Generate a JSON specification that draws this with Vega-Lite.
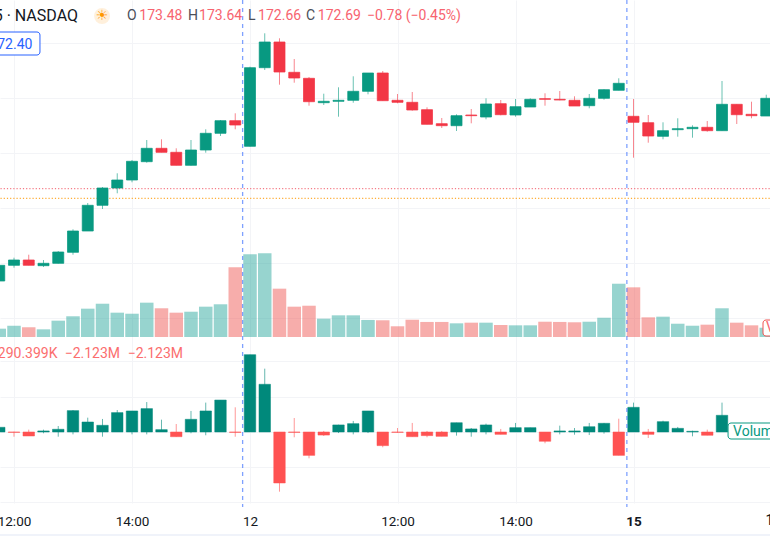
{"$schema":"https://vega.github.io/schema/vega-lite/v6.json","width":770,"height":503,"autosize":{"type":"none"},"padding":{"left":0,"right":0,"top":0,"bottom":33},"background":"#ffffff","config":{"view":{"stroke":null},"font":"Roboto"},
"datasets":{"bars":[
{"i":-17,"o":169.38,"h":169.7,"l":169.38,"c":169.694,"v":1.04,"dh":0.4,"dl":0,"dc":0.4},
{"i":-16,"o":169.694,"h":169.846,"l":169.646,"c":169.8,"v":1.41,"dh":0.03,"dl":-0.4,"dc":-0.03},
{"i":-15,"o":169.8,"h":169.906,"l":169.694,"c":169.694,"v":1.21,"dh":0.2,"dl":-0.34,"dc":-0.34},
{"i":-14,"o":169.686,"h":169.8,"l":169.66,"c":169.734,"v":0.96,"dh":0.2,"dl":-0.11,"dc":0.09},
{"i":-13,"o":169.734,"h":169.98,"l":169.73,"c":169.96,"v":2.04,"dh":0.51,"dl":-0.4,"dc":0.23},
{"i":-12,"o":169.954,"h":170.414,"l":169.906,"c":170.38,"v":2.59,"dh":1.87,"dl":-0.2,"dc":1.82},
{"i":-11,"o":170.38,"h":170.94,"l":170.38,"c":170.894,"v":3.54,"dh":1.22,"dl":0,"dc":0.85},
{"i":-10,"o":170.894,"h":171.26,"l":170.82,"c":171.24,"v":4.16,"dh":1.11,"dl":-0.4,"dc":0.57},
{"i":-9,"o":171.24,"h":171.534,"l":171.134,"c":171.4,"v":3.04,"dh":1.87,"dl":0,"dc":1.65},
{"i":-8,"o":171.4,"h":171.8,"l":171.354,"c":171.774,"v":2.91,"dh":1.79,"dl":-0.2,"dc":1.79},
{"i":-7,"o":171.766,"h":172.2,"l":171.746,"c":172.034,"v":4.29,"dh":2.55,"dl":-0.2,"dc":1.99},
{"i":-6,"o":172.034,"h":172.214,"l":171.954,"c":171.954,"v":3.59,"dh":1.05,"dl":0,"dc":0.2},
{"i":-5,"o":171.954,"h":172.034,"l":171.694,"c":171.694,"v":3.04,"dh":0.68,"dl":-0.4,"dc":-0.4},
{"i":-4,"o":171.694,"h":172.2,"l":171.69,"c":172,"v":3.16,"dh":1.79,"dl":-0.11,"dc":1.08},
{"i":-3,"o":172,"h":172.414,"l":171.946,"c":172.334,"v":3.79,"dh":2.5,"dl":-0.28,"dc":1.79},
{"i":-2,"o":172.334,"h":172.6,"l":172.28,"c":172.586,"v":4.09,"dh":2.72,"dl":0,"dc":2.72},
{"i":-1,"o":172.586,"h":172.734,"l":172.414,"c":172.5,"v":8.71,"dh":2.1,"dl":-0.4,"dc":-0.03},
{"i":0,"o":172.074,"h":173.666,"l":172.07,"c":173.646,"v":10.34,"dh":6.58,"dl":0,"dc":6.58},
{"i":1,"o":173.646,"h":174.334,"l":173.6,"c":174.16,"v":10.46,"dh":5.39,"dl":0,"dc":4.06},
{"i":2,"o":174.16,"h":174.234,"l":173.306,"c":173.56,"v":6.04,"dh":0,"dl":-5.08,"dc":-4.34},
{"i":3,"o":173.554,"h":173.82,"l":173.346,"c":173.44,"v":3.79,"dh":1.19,"dl":-0.45,"dc":-0.03},
{"i":4,"o":173.434,"h":173.46,"l":172.886,"c":172.966,"v":3.91,"dh":0,"dl":-2.24,"dc":-1.99},
{"i":5,"o":172.946,"h":173.126,"l":172.9,"c":172.974,"v":2.29,"dh":0.09,"dl":-0.34,"dc":-0.26},
{"i":6,"o":172.974,"h":173.254,"l":172.666,"c":172.994,"v":2.71,"dh":0.62,"dl":-0.09,"dc":0.6},
{"i":7,"o":172.994,"h":173.474,"l":172.946,"c":173.174,"v":2.71,"dh":0.94,"dl":-0.2,"dc":0.71},
{"i":8,"o":173.174,"h":173.54,"l":173.114,"c":173.54,"v":2.13,"dh":1.79,"dl":-0.09,"dc":1.79},
{"i":9,"o":173.54,"h":173.58,"l":172.986,"c":172.986,"v":2.09,"dh":0,"dl":-1.3,"dc":-1.16},
{"i":10,"o":172.994,"h":173.12,"l":172.934,"c":172.954,"v":1.34,"dh":0.34,"dl":-0.06,"dc":-0.03},
{"i":11,"o":172.954,"h":173.16,"l":172.786,"c":172.8,"v":2.16,"dh":0.77,"dl":-0.4,"dc":-0.4},
{"i":12,"o":172.806,"h":172.854,"l":172.514,"c":172.514,"v":1.88,"dh":0.09,"dl":-0.45,"dc":-0.31},
{"i":13,"o":172.526,"h":172.64,"l":172.44,"c":172.486,"v":1.88,"dh":0.09,"dl":-0.37,"dc":-0.37},
{"i":14,"o":172.486,"h":172.714,"l":172.38,"c":172.686,"v":1.71,"dh":0.79,"dl":-0.31,"dc":0.79},
{"i":15,"o":172.7,"h":172.82,"l":172.534,"c":172.686,"v":1.79,"dh":0.34,"dl":-0.4,"dc":0.26},
{"i":16,"o":172.66,"h":173.034,"l":172.614,"c":172.92,"v":1.79,"dh":0.71,"dl":-0.2,"dc":0.6},
{"i":17,"o":172.926,"h":173,"l":172.694,"c":172.706,"v":1.5,"dh":0.26,"dl":-0.2,"dc":-0.2},
{"i":18,"o":172.7,"h":173.02,"l":172.666,"c":172.866,"v":1.46,"dh":0.77,"dl":0,"dc":0.37},
{"i":19,"o":172.86,"h":173.034,"l":172.86,"c":173.014,"v":1.46,"dh":0.37,"dl":0,"dc":0.37},
{"i":20,"o":173.026,"h":173.134,"l":172.886,"c":173.014,"v":1.91,"dh":0,"dl":-0.96,"dc":-0.79},
{"i":21,"o":173.014,"h":173.18,"l":172.994,"c":173,"v":1.88,"dh":0.54,"dl":-0.2,"dc":0.09},
{"i":22,"o":172.994,"h":173.074,"l":172.88,"c":172.88,"v":1.84,"dh":0.34,"dl":-0.23,"dc":0.09},
{"i":23,"o":172.886,"h":173.12,"l":172.834,"c":173.034,"v":1.91,"dh":0.77,"dl":-0.26,"dc":0.45},
{"i":24,"o":173.034,"h":173.214,"l":173.006,"c":173.206,"v":2.41,"dh":0.77,"dl":-0.14,"dc":0.74},
{"i":25,"o":173.194,"h":173.434,"l":173.194,"c":173.334,"v":6.66,"dh":1.13,"dl":-1.99,"dc":-1.99},
{"i":26,"o":172.674,"h":173.02,"l":171.846,"c":172.554,"v":6.21,"dh":2.5,"dl":0,"dc":2.1},
{"i":27,"o":172.546,"h":172.7,"l":172.146,"c":172.28,"v":2.46,"dh":0.26,"dl":-0.51,"dc":-0.2},
{"i":28,"o":172.274,"h":172.554,"l":172.214,"c":172.386,"v":2.54,"dh":0.96,"dl":0,"dc":0.88},
{"i":29,"o":172.406,"h":172.634,"l":172.266,"c":172.426,"v":1.66,"dh":0.43,"dl":0,"dc":0.31},
{"i":30,"o":172.426,"h":172.494,"l":172.246,"c":172.454,"v":1.41,"dh":0.11,"dl":-0.37,"dc":0.06},
{"i":31,"o":172.454,"h":172.58,"l":172.366,"c":172.386,"v":1.54,"dh":0.2,"dl":-0.28,"dc":-0.28},
{"i":32,"o":172.386,"h":173.38,"l":172.386,"c":172.914,"v":3.59,"dh":2.5,"dl":0,"dc":1.42},
{"i":33,"o":172.914,"h":172.914,"l":172.52,"c":172.706,"v":1.79,"dh":0.1,"dl":0,"dc":0.05},
{"i":34,"o":172.714,"h":172.966,"l":172.634,"c":172.686,"v":1.46,"dh":0.8,"dl":0,"dc":0.05},
{"i":35,"o":172.68,"h":173.106,"l":172.68,"c":173.034,"v":1.16,"dh":0.2,"dl":0,"dc":0.1}
],
"levels":[{"i":-18,"i2":37,"p":171.226,"kind":"red"},{"i":-18,"i2":37,"p":171.034,"kind":"orange"}],
"sessions":[{"i":-0.5,"d1":36.77,"d2":-6.38},{"i":25.55,"d1":36.77,"d2":-6.38}],
"strip":[{"i":-18,"i2":37,"d1":-8.68,"d2":-8.9}],
"boxes":[{"i":-17.6,"i2":-14.24,"p1":174.36,"p2":173.9,"kind":"blue"},{"i":34.78,"i2":37,"p1":168.6,"p2":168.28,"kind":"red"},{"i":32.41,"i2":37,"p1":166.54,"p2":166.22,"kind":"teal"}],
"legendText":[
{"i":-8.34,"p":174.68,"t":"O","kind":"dark"},{"i":-7.5,"p":174.68,"t":"173.48","kind":"red"},
{"i":-4.2,"p":174.68,"t":"H","kind":"dark"},{"i":-3.45,"p":174.68,"t":"173.64","kind":"red"},
{"i":-0.14,"p":174.68,"t":"L","kind":"dark"},{"i":0.55,"p":174.68,"t":"172.66","kind":"red"},
{"i":3.8,"p":174.68,"t":"C","kind":"dark"},{"i":4.6,"p":174.68,"t":"172.69","kind":"red"},
{"i":7.93,"p":174.68,"t":"−0.78 (−0.45%)","kind":"red"},
{"i":32.75,"p":166.37,"t":"Volume","kind":"teal"},{"i":34.98,"p":168.44,"t":"V","kind":"red"},
{"i":34.95,"p":164.58,"t":"12:00","kind":"axis"}],
"rightText":[
{"i":-11.66,"p":174.68,"t":"15 · NASDAQ","kind":"dark","z":"title"},
{"i":-14.75,"p":174.11,"t":"172.40","kind":"blue","z":"value"},
{"i":-13.05,"p":167.92,"t":"290.399K","kind":"delta","z":"value"},
{"i":-8.81,"p":167.92,"t":"−2.123M","kind":"delta","z":"value"},
{"i":-4.54,"p":167.92,"t":"−2.123M","kind":"delta","z":"value"}],
"session":[{"i":-10.03,"p":174.68,"t":"☀"}]},
"encoding":{"x":{"field":"i","type":"quantitative","scale":{"domain":[-16.949,35.254],"nice":false,"zero":false,"padding":0},"title":null,"axis":{"values":[-16,-8,0,10,18,26],"labelExpr":"({'-16':'12:00','-8':'14:00','0':'12','10':'12:00','18':'14:00','26':'15'})[datum.value]","grid":true,"gridColor":"#f3f4f7","gridWidth":1,"domain":false,"ticks":false,"labelPadding":11,"labelFontSize":13.5,"labelColor":"#131722","labelFont":"Roboto","labelOverlap":false,"labelFlush":false,"labelBound":false,"labelFontWeight":{"condition":{"test":"datum.value===26","value":"bold"},"value":"normal"}}}},
"layer":[
{"data":{"name":"strip"},"mark":{"type":"rect","color":"#f0f3fa","clip":false},"encoding":{"x2":{"field":"i2"},"y":{"field":"d1","type":"quantitative","scale":{"domain":[36.766,-6.043],"reverse":true,"zero":false,"nice":false},"axis":{"values":[-6,-3,0,3,6],"grid":true,"gridColor":"#f3f4f7","labels":false,"ticks":false,"domain":false,"title":null}},"y2":{"field":"d2"}}},
{"data":{"name":"levels"},"mark":{"type":"rule","strokeWidth":1,"strokeDash":[1.2,2]},"encoding":{"x2":{"field":"i2"},"y":{"field":"p","type":"quantitative","scale":{"domain":[164.94,175],"zero":false,"nice":false},"axis":{"values":[174.14,173.04,171.94,170.84,169.74,168.64],"grid":true,"gridColor":"#f3f4f7","labels":false,"ticks":false,"domain":false,"title":null}},"color":{"field":"kind","type":"nominal","scale":{"domain":["red","orange"],"range":["#f25c69","#ff9800"]},"legend":null}}},
{"data":{"name":"bars"},"mark":{"type":"rule","strokeWidth":1,"opacity":0.6},"encoding":{"y":{"field":"h","type":"quantitative","scale":{"domain":[164.94,175],"zero":false,"nice":false},"axis":null},"y2":{"field":"l"},"color":{"condition":{"test":"datum.c>=datum.o","value":"#089981"},"value":"#f23645"}}},
{"data":{"name":"bars"},"mark":{"type":"bar","size":11,"strokeWidth":1,"strokeOpacity":0.75},"encoding":{"y":{"field":"o","type":"quantitative","scale":{"domain":[164.94,175],"zero":false,"nice":false},"axis":null},"y2":{"field":"c"},"color":{"condition":{"test":"datum.c>=datum.o","value":"#089981"},"value":"#f23645"},"stroke":{"condition":{"test":"datum.c>=datum.o","value":"#089981"},"value":"#f23645"}}},
{"data":{"name":"bars"},"mark":{"type":"bar","size":13.5,"opacity":0.48},"encoding":{"y":{"field":"v","type":"quantitative","scale":{"domain":[-20.75,42.125],"zero":false,"nice":false},"axis":null},"y2":{"datum":0},"color":{"condition":{"test":"datum.c>=datum.o","value":"#26a69a"},"value":"#ef5350"}}},
{"data":{"name":"bars"},"mark":{"type":"rule","strokeWidth":1,"opacity":0.6},"encoding":{"y":{"field":"dh","type":"quantitative","scale":{"domain":[-6.043,36.766],"zero":false,"nice":false},"axis":null},"y2":{"field":"dl"},"color":{"condition":{"test":"datum.dc>=0","value":"#00897b"},"value":"#ff5252"}}},
{"data":{"name":"bars"},"mark":{"type":"bar","size":11.5,"strokeWidth":1,"strokeOpacity":0.5},"encoding":{"y":{"field":"dc","type":"quantitative","scale":{"domain":[-6.043,36.766],"zero":false,"nice":false},"axis":null},"y2":{"datum":0},"color":{"condition":{"test":"datum.dc>=0","value":"#00897b"},"value":"#ff5252"},"stroke":{"condition":{"test":"datum.dc>=0","value":"#00897b"},"value":"#ff5252"}}},
{"data":{"name":"sessions"},"mark":{"type":"rule","color":"#2962ff","opacity":0.6,"strokeWidth":1.3,"strokeDash":[4,4]},"encoding":{"y":{"field":"d1","type":"quantitative","scale":{"domain":[-6.043,36.766],"zero":false,"nice":false},"axis":null},"y2":{"field":"d2"}}},
{"data":{"name":"boxes"},"mark":{"type":"rect","fill":"#ffffff","cornerRadius":3,"strokeWidth":1},"encoding":{"x2":{"field":"i2"},"y":{"field":"p1","type":"quantitative","scale":{"domain":[164.94,175],"zero":false,"nice":false},"axis":null},"y2":{"field":"p2"},"stroke":{"field":"kind","type":"nominal","scale":{"domain":["blue","red","teal"],"range":["#2962ff","#ef5350","#089981"]},"legend":null}}},
{"data":{"name":"session"},"mark":{"type":"point","filled":true,"size":254,"color":"#fff0dc","opacity":1},"encoding":{"y":{"field":"p","type":"quantitative","scale":{"domain":[164.94,175],"zero":false,"nice":false},"axis":null}}},
{"data":{"name":"session"},"mark":{"type":"text","font":"DejaVu Sans","fontSize":14,"color":"#ff9800","baseline":"middle","align":"center"},"encoding":{"y":{"field":"p","type":"quantitative","scale":{"domain":[164.94,175],"zero":false,"nice":false},"axis":null},"text":{"field":"t"}}},
{"data":{"name":"legendText"},"mark":{"type":"text","font":"Roboto","fontSize":14,"align":"left","baseline":"middle"},"encoding":{"y":{"field":"p","type":"quantitative","scale":{"domain":[164.94,175],"zero":false,"nice":false},"axis":null},"text":{"field":"t"},"color":{"field":"kind","type":"nominal","scale":{"domain":["dark","red","teal","axis"],"range":["#4a4e59","#f7646f","#089981","#131722"]},"legend":null}}},
{"data":{"name":"rightText"},"mark":{"type":"text","font":"Roboto","align":"right","baseline":"middle"},"encoding":{"y":{"field":"p","type":"quantitative","scale":{"domain":[164.94,175],"zero":false,"nice":false},"axis":null},"text":{"field":"t"},"size":{"field":"z","type":"nominal","scale":{"domain":["title","value"],"range":[16,14]},"legend":null},"color":{"field":"kind","type":"nominal","scale":{"domain":["dark","blue","delta"],"range":["#131722","#2962ff","#fb6e6e"]},"legend":null}}}
],
"resolve":{"scale":{"y":"independent","color":"independent","stroke":"independent"}}}
